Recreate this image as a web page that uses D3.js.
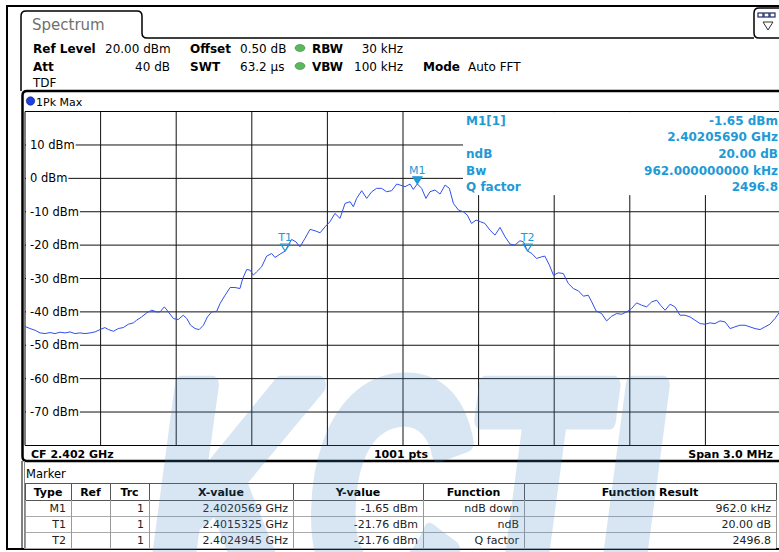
<!DOCTYPE html>
<html>
<head>
<meta charset="utf-8">
<script src="https://cdn.jsdelivr.net/npm/d3@7"></script>
<style>
  body { margin: 0; background: #fff; }
  svg { display: block; font-family: "DejaVu Sans", Verdana, sans-serif; }
</style>
</head>
<body>
<div id="chart"></div>
<script>
// trace: frequency offset from CF (kHz) and level (dBm)
const freqKHz = [
  -1500, -1496, -1480, -1460, -1440, -1421, -1401, -1381, -1361, -1341, -1321, -1302, -1282, -1262,
  -1242, -1222, -1202, -1183, -1169, -1149, -1130, -1110, -1090, -1070, -1057, -1037, -1017, -997,
  -977, -964, -947, -931, -911, -892, -872, -858, -843, -825, -809, -792, -776, -759, -739, -726,
  -706, -686, -667, -647, -636, -620, -607, -594, -581, -561, -541, -521, -508, -488, -468, -455,
  -442, -425, -409, -389, -369, -349, -329, -309, -290, -270, -250, -230, -210, -197, -184, -164,
  -144, -124, -105, -85, -65, -45, -25, -12, 8, 28, 41, 57, 74, 91, 107, 127, 147, 167, 184, 200,
  220, 239, 255, 272, 290, 308, 325, 345, 365, 385, 405, 425, 444, 464, 478, 494, 511, 530, 550,
  563, 581, 597, 616, 636, 656, 676, 696, 716, 735, 749, 766, 788, 808, 828, 848, 868, 888, 907,
  927, 947, 967, 987, 1007, 1022, 1040, 1060, 1079, 1099, 1119, 1139, 1159, 1179, 1198, 1218,
  1238, 1258, 1278, 1298, 1317, 1337, 1357, 1377, 1397, 1417, 1436, 1456, 1476, 1492, 1500
];
const levelDbm = [
  -44.3, -44.5, -45, -45.5, -46.3, -46.5, -46.2, -46.5, -46.1, -46.3, -46, -46.5, -46.3, -46.5,
  -46.3, -46, -45.3, -44.7, -45.3, -45.8, -45, -44.7, -43.7, -43.3, -42.5, -41.5, -40.3, -39.5,
  -40, -40, -38.5, -40, -42, -42.3, -41, -42, -44, -45, -45.3, -44, -41.5, -40, -39.8, -37.5,
  -35, -32.7, -32.7, -33, -30, -27.3, -27.5, -29, -28, -26.5, -23.3, -22.5, -23.7, -22.7, -21.8, -20,
  -18.3, -19, -20.5, -18, -15.3, -15.7, -16.3, -14.5, -13, -10.5, -12, -7.5, -7, -8.5, -6, -3.7,
  -6, -4, -3, -3, -4, -3.7, -1.7, -2, -2.5, -1.7, -3.3, -1.65, -3, -6, -4, -3.5, -4.7, -2, -3, -7.5,
  -9.5, -10, -11, -13.5, -12.5, -13, -13.5, -15.5, -17, -14.7, -17.5, -19.7, -20, -18.7, -19, -21.76, -22.5, -24, -23.5,
  -23.3, -26, -29, -28.3, -28.5, -31.5, -33, -33.7, -35.3, -35, -37, -39.7, -40.5, -42.7, -41.3, -40.5, -40.7, -40, -39,
  -37.3, -38, -38.5, -37, -36.5, -38, -39.5, -37.7, -38.5, -41, -41, -41.5, -42.5, -43.5, -43.7, -43.3,
  -43.5, -42.7, -43, -45, -44.5, -44, -44, -44.5, -45, -45.3, -44.5, -43.7, -42, -40.3, -39.5
];

const yTicks = [10, 0, -10, -20, -30, -40, -50, -60, -70];
const xGridKHz = [-1200, -900, -600, -300, 0, 300, 600, 900, 1200];

const markerNames = ['M1', 'T1', 'T2'];
const markerKHz = [56.9, -467.5, 494.5];
const markerDbm = [-1.65, -21.76, -21.76];

const infoLabels = ['M1[1]', '', 'ndB', 'Bw', 'Q factor'];
const infoValues = ['-1.65 dBm', '2.40205690 GHz', '20.00 dB', '962.000000000 kHz', '2496.8'];

const tableHeaders = ['Type', 'Ref', 'Trc', 'X-value', 'Y-value', 'Function', 'Function Result'];
const tableType = ['M1', 'T1', 'T2'];
const tableTrc = ['1', '1', '1'];
const tableX = ['2.4020569 GHz', '2.4015325 GHz', '2.4024945 GHz'];
const tableY = ['-1.65 dBm', '-21.76 dBm', '-21.76 dBm'];
const tableFunc = ['ndB down', 'ndB', 'Q factor'];
const tableResult = ['962.0 kHz', '20.00 dB', '2496.8'];

const W = 779, H = 552;
const plot = { l: 25, r: 781, t: 111.6, b: 445.4 };
const blue = '#1e9ad6';

const svg = d3.select('#chart').append('svg')
  .attr('width', W)
  .attr('height', H)
  .attr('viewBox', [0, 0, W, H]);

svg.append('rect').attr('width', W).attr('height', H).attr('fill', '#fff');

const x = d3.scaleLinear().domain([-1500, 1500]).range([plot.l, plot.r]);
const y = d3.scaleLinear().domain([-80, 20]).range([plot.b, plot.t]);

// ---- frames ----
const frame = svg.append('g').attr('fill', 'none').attr('stroke', '#000');
frame.append('path').attr('stroke-width', 2).attr('d', 'M779,549 H7 V6 H779');
frame.append('path').attr('stroke-width', 1.5)
  .attr('d', 'M21,91 V16 Q21,11 26,11 H137 Q142,11 142,16 V33 Q142,38 147,38 H754');
frame.append('path').attr('stroke-width', 1.5)
  .attr('d', 'M779,8 H759 Q754,8 754,13 V33 Q754,38 759,38 H779');
frame.append('path').attr('stroke-width', 2.5)
  .attr('d', 'M779,91 H27 Q22.5,91 22.5,95.5 V456.5 Q22.5,461 27,461 H779');
frame.append('line').attr('x1', 22).attr('x2', 22).attr('y1', 461).attr('y2', 549).attr('stroke-width', 1);
frame.append('line').attr('x1', 24.5).attr('x2', 24.5).attr('y1', 461).attr('y2', 549).attr('stroke', '#888');

// icon in the top right box
const icon = svg.append('g');
[758, 764, 770].forEach(ix => {
  icon.append('rect').attr('x', ix).attr('y', 13).attr('width', 5).attr('height', 4)
    .attr('fill', '#fff').attr('stroke', '#1a2a6a').attr('stroke-width', 1.2);
});
icon.append('path').attr('d', 'M763,22 H773 L768,30 Z').attr('fill', 'none').attr('stroke', '#333');

// header texts
svg.append('text').attr('x', 32).attr('y', 30).attr('font-size', 15).attr('fill', '#707070').text('Spectrum');

const hdr = svg.append('g').attr('font-size', 12).attr('fill', '#000');
const hdrItems = [
  { t: 'Ref Level', x: 33, y: 53, b: true },
  { t: '20.00 dBm', x: 105, y: 53 },
  { t: 'Offset', x: 190, y: 53, b: true },
  { t: '0.50 dB', x: 240, y: 53 },
  { t: 'RBW', x: 312, y: 53, b: true },
  { t: '30 kHz', x: 403, y: 53, a: 'end' },
  { t: 'Att', x: 33, y: 71, b: true },
  { t: '40 dB', x: 170, y: 71, a: 'end' },
  { t: 'SWT', x: 190, y: 71, b: true },
  { t: '63.2 µs', x: 240, y: 71 },
  { t: 'VBW', x: 312, y: 71, b: true },
  { t: '100 kHz', x: 403, y: 71, a: 'end' },
  { t: 'Mode', x: 423, y: 71, b: true },
  { t: 'Auto FFT', x: 468, y: 71 },
  { t: 'TDF', x: 33, y: 87 }
];
hdr.selectAll('text').data(hdrItems).join('text')
  .attr('x', d => d.x).attr('y', d => d.y)
  .attr('font-weight', d => d.b ? 'bold' : 'normal')
  .attr('text-anchor', d => d.a || 'start')
  .text(d => d.t);
[48, 66].forEach(cy => {
  svg.append('ellipse').attr('cx', 300).attr('cy', cy).attr('rx', 5).attr('ry', 3.5)
    .attr('fill', '#5cb85c').attr('stroke', '#3d8b3d').attr('stroke-width', 0.6);
});

// trace label
svg.append('circle').attr('cx', 30.5).attr('cy', 101).attr('r', 4.2)
  .attr('fill', '#1f3fe0').attr('stroke', '#0a1a80').attr('stroke-width', 0.6);
svg.append('text').attr('x', 36).attr('y', 105.5).attr('font-size', 11).text('1Pk Max');

// ---- plot ----
const grid = svg.append('g').attr('stroke', '#111').attr('stroke-width', 1);
grid.selectAll('.v').data(xGridKHz).join('line')
  .attr('x1', d => x(d)).attr('x2', d => x(d))
  .attr('y1', plot.t).attr('y2', plot.b);
grid.selectAll('.h').data(yTicks).join('line')
  .attr('x1', plot.l).attr('x2', plot.r)
  .attr('y1', d => y(d)).attr('y2', d => y(d));

const yl = svg.append('g').attr('font-size', 11.5);
yTicks.forEach(v => {
  const t = yl.append('text').attr('x', 30).attr('y', y(v) + 4).text(`${v} dBm`);
  const w = t.node().getComputedTextLength();
  yl.insert('rect', 'text').attr('x', 26).attr('y', y(v) - 6).attr('width', w + 5).attr('height', 12).attr('fill', '#fff');
});

// marker info panel
svg.append('rect').attr('x', 463).attr('y', plot.t + 0.5).attr('width', W - 463).attr('height', 83).attr('fill', '#fff');
const info = svg.append('g').attr('font-size', 12).attr('font-weight', 'bold').attr('fill', blue);
infoLabels.forEach((l, i) => {
  info.append('text').attr('x', 466).attr('y', 124.5 + i * 16.7).text(l);
  info.append('text').attr('x', 778).attr('y', 124.5 + i * 16.7).attr('text-anchor', 'end').text(infoValues[i]);
});

// plot borders
const pb = svg.append('g').attr('stroke', '#000').attr('stroke-width', 1);
pb.append('line').attr('x1', plot.l).attr('x2', plot.l).attr('y1', plot.t).attr('y2', plot.b);
pb.append('line').attr('x1', plot.l).attr('x2', W).attr('y1', 111.5).attr('y2', 111.5);
pb.append('line').attr('x1', plot.l).attr('x2', W).attr('y1', 445.5).attr('y2', 445.5);

// trace
const trace = freqKHz.map((f, i) => [f, levelDbm[i]]);
svg.append('path')
  .datum(trace)
  .attr('fill', 'none')
  .attr('stroke', '#2f4ff0')
  .attr('stroke-width', 1)
  .attr('d', d3.line().x(d => x(d[0])).y(d => y(d[1])));

// markers
const mk = svg.append('g');
markerNames.forEach((n, i) => {
  const mx = x(markerKHz[i]), my = y(markerDbm[i]);
  mk.append('path')
    .attr('d', `M${mx - 4.5},${my - 7} H${mx + 4.5} L${mx},${my} Z`)
    .attr('fill', n === 'M1' ? blue : 'none')
    .attr('stroke', blue).attr('stroke-width', 1.2);
  mk.append('text').attr('x', mx).attr('y', my - 10).attr('text-anchor', 'middle')
    .attr('font-size', 11).attr('fill', blue).text(n);
});

// footer
const ft = svg.append('g').attr('font-size', 11).attr('font-weight', 'bold');
ft.append('text').attr('x', 31).attr('y', 458).text('CF 2.402 GHz');
ft.append('text').attr('x', 401).attr('y', 458).attr('text-anchor', 'middle').text('1001 pts');
ft.append('text').attr('x', 773).attr('y', 458).attr('text-anchor', 'end').text('Span 3.0 MHz');

// ---- marker table ----
svg.append('text').attr('x', 26).attr('y', 478).attr('font-size', 11.5).text('Marker');
const cols = [25, 71, 110, 149, 293, 423, 524, 776];
const rows = [483, 500, 516, 532, 548];
const tbl = svg.append('g');
tbl.selectAll('.rl').data(rows).join('line')
  .attr('x1', cols[0]).attr('x2', cols[cols.length - 1])
  .attr('y1', d => d + 0.5).attr('y2', d => d + 0.5)
  .attr('stroke', (d, i) => i < 2 ? '#555' : '#aaa');
tbl.selectAll('.cl').data(cols).join('line')
  .attr('x1', d => d + 0.5).attr('x2', d => d + 0.5)
  .attr('y1', rows[0]).attr('y2', rows[rows.length - 1])
  .attr('stroke', '#999');
tbl.selectAll('.ch').data(cols).join('line')
  .attr('x1', d => d + 0.5).attr('x2', d => d + 0.5)
  .attr('y1', rows[0]).attr('y2', rows[1])
  .attr('stroke', '#555');

const th = tbl.append('g').attr('font-size', 11).attr('font-weight', 'bold');
tableHeaders.forEach((h, i) => {
  th.append('text').attr('x', (cols[i] + cols[i + 1]) / 2).attr('y', 496)
    .attr('text-anchor', 'middle').text(h);
});
const td = tbl.append('g').attr('font-size', 11).attr('text-anchor', 'end').attr('fill', '#222');
const colData = [tableType, null, tableTrc, tableX, tableY, tableFunc, tableResult];
colData.forEach((arr, c) => {
  if (!arr) return;
  arr.forEach((v, r) => {
    td.append('text').attr('x', cols[c + 1] - 5).attr('y', rows[r + 1] + 12).text(v);
  });
});

// watermark (heavy italic letters, drawn translucent over everything)
svg.append('g').attr('opacity', 0.21)
  .append('text')
  .attr('x', 148).attr('y', 605)
  .attr('font-family', '"Liberation Sans", Arial, sans-serif')
  .attr('font-size', 320).attr('font-weight', 'bold').attr('font-style', 'italic')
  .attr('textLength', 585).attr('lengthAdjust', 'spacingAndGlyphs')
  .attr('fill', '#4a8ccc').attr('stroke', '#4a8ccc').attr('stroke-width', 18)
  .attr('stroke-linejoin', 'round')
  .text('KCTL');
</script>
</body>
</html>
